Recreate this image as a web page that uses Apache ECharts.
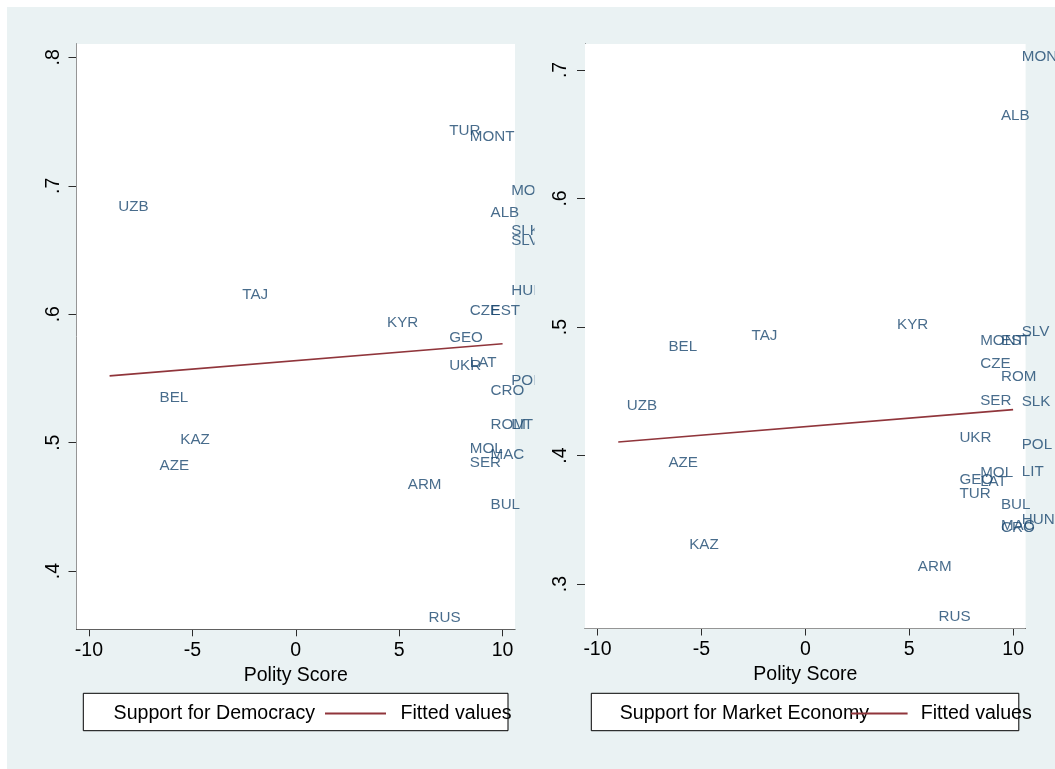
<!DOCTYPE html>
<html>
<head>
<meta charset="utf-8">
<script src="https://cdn.jsdelivr.net/npm/echarts@6/dist/echarts.min.js"></script>
<style>
html,body{margin:0;padding:0;background:#fff;}
#chart{width:1055px;height:769px;}
</style>
</head>
<body>
<div id="chart"></div>
<script>
// ---- data ----
const countries = ['ALB','ARM','AZE','BEL','BUL','CRO','CZE','EST','GEO','HUN','KAZ','KYR','LAT','LIT','MAC','MOL','MON','MONT','POL','ROM','RUS','SER','SLK','SLV','TAJ','TUR','UKR','UZB'];
const polity    = [9, 5, -7, -7, 9, 9, 8, 9, 7, 10, -6, 4, 8, 10, 9, 8, 10, 8, 10, 9, 6, 8, 10, 10, -3, 7, 7, -9];
const demSupport = [0.679, 0.467, 0.482, 0.535, 0.452, 0.540, 0.603, 0.603, 0.582, 0.618, 0.502, 0.593, 0.562, 0.514, 0.4905, 0.4955, 0.696, 0.738, 0.548, 0.514, 0.364, 0.484, 0.665, 0.657, 0.615, 0.743, 0.560, 0.684];
const mktSupport = [0.664, 0.3135, 0.394, 0.4845, 0.362, 0.344, 0.471, 0.489, 0.381, 0.3496, 0.3306, 0.502, 0.3796, 0.3874, 0.345, 0.3867, 0.710, 0.489, 0.4087, 0.4613, 0.2746, 0.4427, 0.442, 0.4963, 0.4928, 0.370, 0.4134, 0.4383];
const fitX = [-9, 10];
const demFit = [0.552, 0.577];
const mktFit = [0.4105, 0.4357];
const xTicks = [-10, -5, 0, 5, 10];
const demTicks = [0.4, 0.5, 0.6, 0.7, 0.8];
const mktTicks = [0.3, 0.4, 0.5, 0.6, 0.7];
const xTitle = 'Polity Score';
const demName = 'Support for Democracy';
const mktName = 'Support for Market Economy';
const fitName = 'Fitted values';

// ---- styling ----
const FONT = "'Liberation Sans', Arial, Helvetica, sans-serif";
const AXIS_COLOR = '#2b2b2b';
const LABEL_COLOR = '#1a476f';
const FIT_COLOR = '#90353b';
const BG = '#eaf2f3';

function pts(xs, ys) { return xs.map((x, i) => [x, ys[i]]); }
function ptsNamed(xs, ys, names) { return xs.map((x, i) => ({ value: [x, ys[i]], name: names[i] })); }

function xAxisFor(gi) {
  return {
    type: 'value', gridIndex: gi, min: -10.6, max: 10.6,
    name: xTitle, nameLocation: 'middle', nameGap: 31,
    nameTextStyle: { fontFamily: FONT, fontSize: 19.5, color: '#000' },
    axisLine: { show: true, onZero: false, lineStyle: { color: AXIS_COLOR, width: 1 } },
    axisTick: { show: true, length: 7, customValues: xTicks, lineStyle: { color: AXIS_COLOR, width: 1 } },
    axisLabel: { customValues: xTicks, margin: 11.5, fontFamily: FONT, fontSize: 19.5, color: '#000' },
    splitLine: { show: false }
  };
}
function yAxisFor(gi, min, max, ticks, margin) {
  return {
    type: 'value', gridIndex: gi, min: min, max: max,
    axisLine: { show: true, onZero: false, lineStyle: { color: AXIS_COLOR, width: 1 } },
    axisTick: { show: true, length: 8, customValues: ticks, lineStyle: { color: AXIS_COLOR, width: 1 } },
    axisLabel: { customValues: ticks, rotate: 90, margin: margin, fontFamily: FONT, fontSize: 19.5, color: '#000',
      formatter: v => (Math.round(v * 10) / 10).toFixed(1).replace(/^0/, '') },
    splitLine: { show: true, lineStyle: { color: BG, width: 1.2 } }
  };
}
function scatterSeries(name, gi, ys) {
  return {
    name: name, type: 'scatter', xAxisIndex: gi, yAxisIndex: gi,
    data: ptsNamed(polity, ys, countries), symbolSize: 0.01,
    itemStyle: { color: 'rgba(0,0,0,0)' }, silent: true, z: 3,
    label: { show: true, position: 'right', distance: 8.6, formatter: p => p.name,
      fontFamily: FONT, fontSize: 15.2, color: LABEL_COLOR },
    emphasis: { disabled: true }
  };
}
function fitSeries(gi, ys) {
  return {
    name: fitName, type: 'line', xAxisIndex: gi, yAxisIndex: gi,
    data: pts(fitX, ys), showSymbol: false, symbol: 'none', silent: true, z: 2,
    lineStyle: { color: FIT_COLOR, width: 1.6 }, itemStyle: { color: FIT_COLOR },
    emphasis: { disabled: true }
  };
}
function legendItem(name, left, itemWidth, textPad, visibleIcon) {
  return {
    show: true, left: left, top: 703.5, orient: 'horizontal', padding: 0,
    selectedMode: false, itemWidth: itemWidth, itemHeight: visibleIcon ? 2 : 10, itemGap: 0,
    icon: 'rect', data: [visibleIcon ? { name: name } : { name: name, itemStyle: { color: 'rgba(0,0,0,0)', opacity: 0 } }],
    textStyle: { fontFamily: FONT, fontSize: 19.6, color: '#000', padding: [0, 0, 0, textPad] },
    z: 6
  };
}

const option = {
  animation: false,
  backgroundColor: '#fff',
  grid: [
    { left: 76.5, top: 44, width: 438.5, height: 585.3, show: true, backgroundColor: '#fff', borderWidth: 0, z: 1 },
    { left: 585, top: 44, width: 440.6, height: 584.5, show: true, backgroundColor: '#fff', borderWidth: 0, z: 1 }
  ],
  xAxis: [xAxisFor(0), xAxisFor(1)],
  yAxis: [yAxisFor(0, 0.3547, 0.8104, demTicks, 12.5), yAxisFor(1, 0.2654, 0.7202, mktTicks, 14)],
  legend: [
    legendItem(demName, 83.6, 25, 0, false),
    legendItem(fitName, 325, 61, 9.5, true),
    legendItem(mktName, 589.7, 25, 0, false),
    legendItem(fitName, 851, 56.6, 8.1, true)
  ],
  graphic: [
    { type: 'rect', z: -10, silent: true, shape: { x: 7, y: 7, width: 1048, height: 762 }, style: { fill: BG } },
    { type: 'rect', z: 1, silent: true, shape: { x: 83.3, y: 693.3, width: 424.7, height: 37.4 }, style: { fill: '#fff', stroke: '#000', lineWidth: 1 } },
    { type: 'rect', z: 1, silent: true, shape: { x: 591.3, y: 693.3, width: 427.5, height: 37.4 }, style: { fill: '#fff', stroke: '#000', lineWidth: 1 } },
    { type: 'rect', z: 20, silent: true, shape: { x: 534.5, y: 40, width: 14, height: 595 }, style: { fill: BG } }
  ],
  series: [
    scatterSeries(demName, 0, demSupport),
    fitSeries(0, demFit),
    scatterSeries(mktName, 1, mktSupport),
    fitSeries(1, mktFit)
  ]
};

const chart = echarts.init(document.getElementById('chart'), null, { renderer: 'canvas' });
chart.setOption(option);
</script>
</body>
</html>
